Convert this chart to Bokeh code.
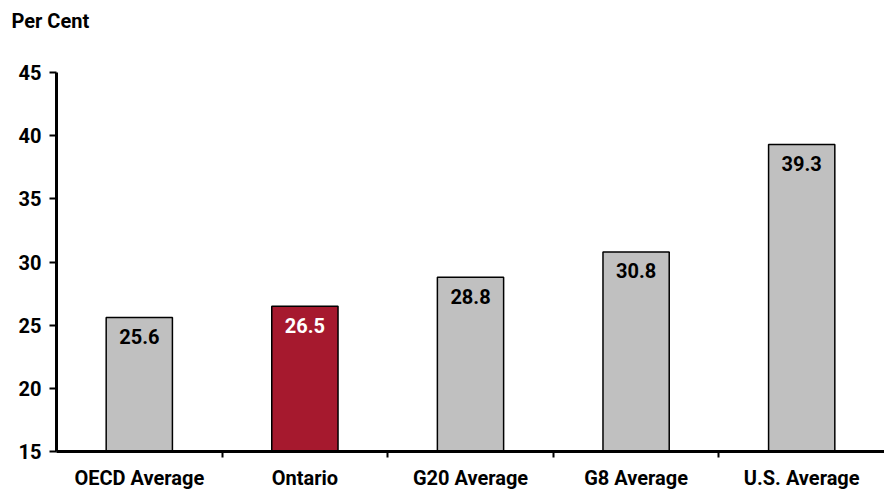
from bokeh.plotting import figure
from bokeh.models import ColumnDataSource, FixedTicker, Range1d, Title
from bokeh.core.properties import value
from bokeh.embed import file_html
from bokeh.resources import INLINE

categories = ["OECD Average", "Ontario", "G20 Average", "G8 Average", "U.S. Average"]
rates = [25.6, 26.5, 28.8, 30.8, 39.3]
bar_colors = ["#C0C0C0", "#A6192E", "#C0C0C0", "#C0C0C0", "#C0C0C0"]
label_colors = ["black", "white", "black", "black", "black"]
y_ticks = [15, 20, 25, 30, 35, 40, 45]
unit_label = "Per Cent"

FONT = "Roboto"

xs = [i + 0.5 for i in range(len(categories))]
src = ColumnDataSource(dict(x=xs, top=rates, color=bar_colors, lcolor=label_colors,
                            txt=[f"{v:.1f}" for v in rates]))

p = figure(width=884, height=492, output_backend="svg", toolbar_location=None,
           x_range=Range1d(0, len(categories)), y_range=Range1d(15, 45),
           min_border_left=56, min_border_right=0, min_border_top=72, min_border_bottom=40)
p.outline_line_color = None
p.grid.visible = False
p.background_fill_color = "white"

# spacer panel next to the frame, then the unit label above it
p.add_layout(Title(text=" ", text_font_size="1px", standoff=37), "above")
p.add_layout(Title(text=unit_label, align="left", offset=-45, standoff=0,
                   text_font=FONT, text_font_style="bold", text_font_size="20px",
                   text_color="black"), "above")

p.vbar(x="x", top="top", bottom=15, width=0.4, fill_color="color",
       line_color="black", line_width=1.5, source=src)
p.text(x="x", y="top", text="txt", text_color="lcolor", source=src,
       text_align="center", text_baseline="middle", y_offset=19,
       text_font=value(FONT), text_font_style="bold", text_font_size="20px")

# y axis
ya = p.yaxis[0]
ya.ticker = FixedTicker(ticks=y_ticks)
ya.axis_line_width = 3
ya.axis_line_color = "black"
ya.major_tick_out = 7
ya.major_tick_in = 0
ya.major_tick_line_width = 2
ya.minor_tick_line_color = None
ya.major_label_text_font = FONT
ya.major_label_text_font_style = "bold"
ya.major_label_text_font_size = "20px"
ya.major_label_text_color = "black"
ya.major_label_standoff = 8

# x axis
xa = p.xaxis[0]
xa.ticker = FixedTicker(ticks=xs, minor_ticks=[i for i in range(1, len(categories))])
xa.major_label_overrides = {x: c for x, c in zip(xs, categories)}
xa.axis_line_width = 3
xa.axis_line_color = "black"
xa.major_tick_line_color = None
xa.minor_tick_out = 6
xa.minor_tick_in = 0
xa.minor_tick_line_width = 2
xa.minor_tick_line_color = "black"
xa.major_label_text_font = FONT
xa.major_label_text_font_style = "bold"
xa.major_label_text_font_size = "20px"
xa.major_label_text_color = "black"
xa.major_label_standoff = 8

open("out.html", "w").write(file_html(p, INLINE))
